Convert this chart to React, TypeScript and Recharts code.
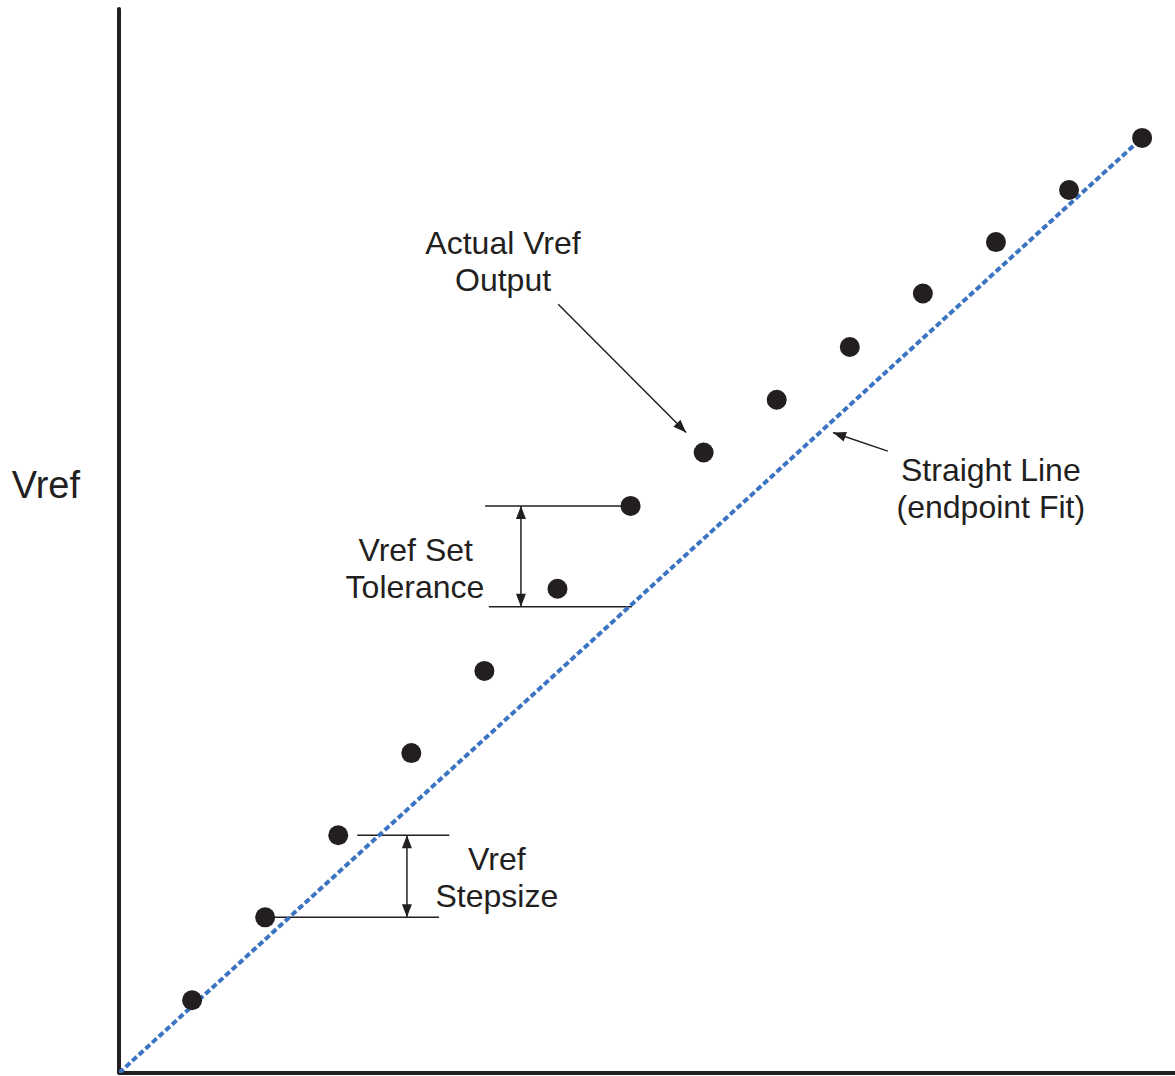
import React from 'react';
import { ComposedChart, XAxis, YAxis, Scatter, ReferenceLine, ReferenceDot } from 'recharts';

const steps = [1, 2, 3, 4, 5, 6, 7, 8, 9, 10, 11, 12, 13, 14];
const vrefOutput = [1.09, 2.33, 3.56, 4.79, 6.02, 7.25, 8.49, 9.29, 10.08, 10.87, 11.67, 12.44, 13.22, 14.0];
const fitX = [0, 14];
const fitY = [0, 14];

const textLabels = [
  { x: 5.255, y: 12.42, text: 'Actual Vref' },
  { x: 5.255, y: 11.87, text: 'Output' },
  { x: 11.93, y: 9.03, text: 'Straight Line' },
  { x: 11.93, y: 8.47, text: '(endpoint Fit)' },
  { x: 4.06, y: 7.83, text: 'Vref Set' },
  { x: 4.05, y: 7.27, text: 'Tolerance' },
  { x: 5.17, y: 3.2, text: 'Vref' },
  { x: 5.17, y: 2.65, text: 'Stepsize' },
];
const axisLabel = { x: -1.0, y: 8.8, text: 'Vref' };

const plainLines = [
  { x1: 5.01, y1: 8.49, x2: 6.9, y2: 8.49 },
  { x1: 5.06, y1: 6.98, x2: 7.02, y2: 6.98 },
  { x1: 3.26, y1: 3.56, x2: 4.52, y2: 3.56 },
  { x1: 2.13, y1: 2.33, x2: 4.38, y2: 2.33 },
];
const arrows = [
  { x1: 5.5, y1: 6.98, x2: 5.5, y2: 8.49, heads: 2 },
  { x1: 3.94, y1: 2.33, x2: 3.94, y2: 3.56, heads: 2 },
  { x1: 6.01, y1: 11.51, x2: 7.76, y2: 9.59, heads: 1 },
  { x1: 10.52, y1: 9.31, x2: 9.77, y2: 9.59, heads: 1 },
];

const points = steps.map((s, i) => ({ x: s, y: vrefOutput[i] }));
const fitLine = fitX.map((x, i) => ({ x, y: fitY[i] }));

const INK = '#231f20';
const FONT = '"Liberation Sans", Arial, Helvetica, sans-serif';

function head(xTip: number, yTip: number, xFrom: number, yFrom: number) {
  const ang = Math.atan2(yTip - yFrom, xTip - xFrom);
  const L = 13;
  const W = 5;
  const bx = xTip - L * Math.cos(ang);
  const by = yTip - L * Math.sin(ang);
  const px = -Math.sin(ang) * W;
  const py = Math.cos(ang) * W;
  return `${xTip},${yTip} ${bx + px},${by + py} ${bx - px},${by - py}`;
}

function makeArrowShape(heads: number) {
  return (props: any) => {
    const { x1, y1, x2, y2 } = props;
    if ([x1, y1, x2, y2].some((v) => typeof v !== 'number' || isNaN(v))) return <g />;
    return (
      <g>
        <line x1={x1} y1={y1} x2={x2} y2={y2} stroke={INK} strokeWidth={1.5} />
        <polygon points={head(x2, y2, x1, y1)} fill={INK} />
        {heads === 2 && <polygon points={head(x1, y1, x2, y2)} fill={INK} />}
      </g>
    );
  };
}

function makeTextShape(text: string, size: number) {
  return (props: any) => (
    <text
      x={props.cx}
      y={props.cy}
      textAnchor="middle"
      dominantBaseline="central"
      fontFamily={FONT}
      fontSize={size}
      fill={INK}
    >
      {text}
    </text>
  );
}

export default function App() {
  return (
    <div style={{ position: 'absolute', left: 0, top: 0 }}>
      <ComposedChart
        width={1175}
        height={1076}
        margin={{ top: 9, right: 0, bottom: 0, left: 0 }}
      >
        <XAxis
          type="number"
          dataKey="x"
          domain={[0, 14.45]}
          height={3}
          tick={false}
          tickLine={false}
          axisLine={{ stroke: INK, strokeWidth: 4 }}
          allowDataOverflow
        />
        <YAxis
          type="number"
          dataKey="y"
          domain={[0, 15.93]}
          width={119}
          tick={false}
          tickLine={false}
          axisLine={{ stroke: INK, strokeWidth: 4, strokeLinecap: 'round' }}
          allowDataOverflow
        />
        <Scatter
          data={fitLine}
          line={{ stroke: '#3a74c2', strokeWidth: 4, strokeDasharray: '6 3' }}
          shape={() => <g />}
          isAnimationActive={false}
        />
        <Scatter
          data={points}
          fill={INK}
          shape={(p: any) => <circle cx={p.cx} cy={p.cy} r={10} fill={INK} />}
          isAnimationActive={false}
        />
        {plainLines.map((l, i) => (
          <ReferenceLine
            key={'pl' + i}
            segment={[{ x: l.x1, y: l.y1 }, { x: l.x2, y: l.y2 }]}
            stroke={INK}
            strokeWidth={1.5}
            ifOverflow="visible"
          />
        ))}
        {arrows.map((a, i) => (
          <ReferenceLine
            key={'ar' + i}
            segment={[{ x: a.x1, y: a.y1 }, { x: a.x2, y: a.y2 }]}
            shape={makeArrowShape(a.heads)}
            ifOverflow="visible"
          />
        ))}
        {textLabels.map((t, i) => (
          <ReferenceDot
            key={'tx' + i}
            x={t.x}
            y={t.y}
            r={0}
            ifOverflow="visible"
            shape={makeTextShape(t.text, 32)}
          />
        ))}
        <ReferenceDot
          x={axisLabel.x}
          y={axisLabel.y}
          r={0}
          ifOverflow="visible"
          shape={makeTextShape(axisLabel.text, 38)}
        />
      </ComposedChart>
    </div>
  );
}
